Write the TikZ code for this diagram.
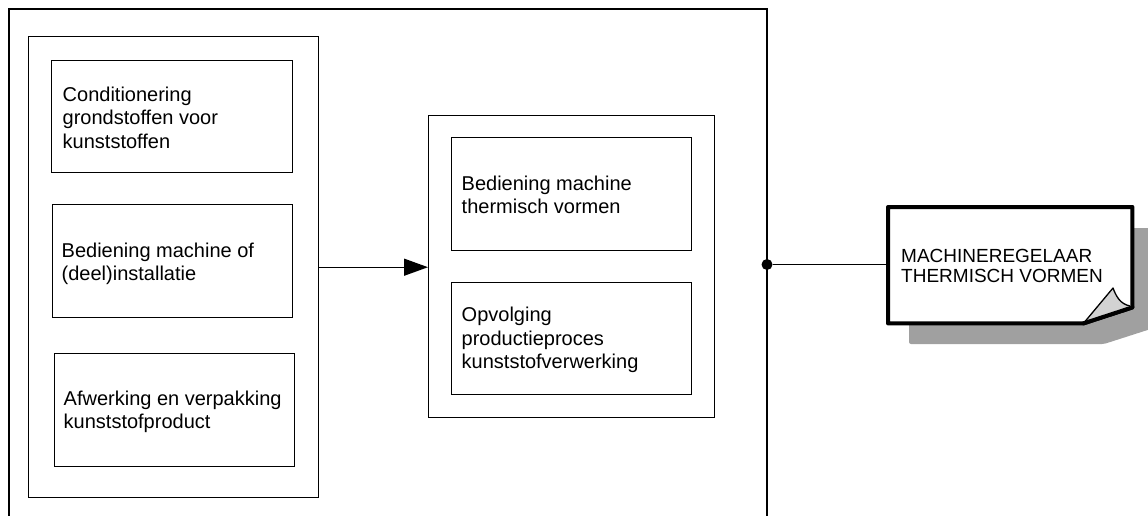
\documentclass[tikz,border=0pt]{standalone}
\usepackage{fontspec}
\setmainfont{Liberation Sans}
\usetikzlibrary{arrows.meta}
\definecolor{shadowgray}{RGB}{160,160,160}
\definecolor{foldgray}{RGB}{210,210,210}
\tikzset{
  frame/.style={draw=black, line width=1.4pt},
  box/.style={draw=black, line width=1.4pt, rectangle, inner sep=0pt, anchor=north west},
  label/.style={anchor=north west, align=left, inner sep=0pt, font=\fontsize{20}{23.5}\selectfont},
  doclabel/.style={anchor=north west, align=left, inner sep=0pt, font=\fontsize{19}{20}\selectfont},
  conn/.style={draw=black, line width=1.4pt},
}
\begin{document}
\begin{tikzpicture}[x=1pt,y=-1pt]
\useasboundingbox (0,0) rectangle (1148,515);
\begin{scope}
\clip (0,0) rectangle (1148,515);
% outer frame, open at the bottom
\coordinate (fbl) at (9,530);
\coordinate (ftl) at (9,9);
\coordinate (ftr) at (767,9);
\coordinate (fbr) at (767,530);
\draw[frame, line join=miter] (fbl) -- (ftl) -- (ftr) -- (fbr);

% left group
\node[box, minimum width=290pt, minimum height=461pt] (g1) at (28,36) {};
\node[box, minimum width=241pt, minimum height=112pt] (b1) at (51,60) {};
\node[box, minimum width=240pt, minimum height=113pt] (b2) at (52,204) {};
\node[box, minimum width=240pt, minimum height=113pt] (b3) at (54,353) {};
\node[label] (t1) at (62.5,86.4) {Conditionering\\grondstoffen voor\\kunststoffen};
\node[label] (t2) at (61.5,242.4) {Bediening machine of\\(deel)installatie};
\node[label] (t3) at (63.5,390.4) {Afwerking en verpakking\\kunststofproduct};

% middle group
\node[box, minimum width=286pt, minimum height=302pt] (g2) at (428,115) {};
\node[box, minimum width=240pt, minimum height=113pt] (m1) at (451,137) {};
\node[box, minimum width=240pt, minimum height=112pt] (m2) at (451,282) {};
\node[label] (t4) at (461.5,175.4) {Bediening machine\\thermisch vormen};
\node[label] (t5) at (461.5,307.1) {Opvolging\\productieproces\\kunststofverwerking};

% arrow between groups
\draw[conn, -{Triangle[length=24pt,width=17pt]}] (g1.east) -- (g1.east -| g2.west);

% document shape
\node[inner sep=0pt, minimum width=244pt, minimum height=116pt, anchor=north west] (doc) at (888,207) {};
\fill[shadowgray, rounded corners=2pt] (909,228) -- (1160,228) -- (1160,326) -- (1104,344) -- (909,344) -- cycle;
\draw[line width=4pt, line join=round, fill=white] (doc.north west) -- (doc.north east)
  -- ([yshift=16pt]doc.south east) -- ([xshift=-49pt]doc.south east) -- (doc.south west) -- cycle;
\coordinate (f1) at ([xshift=-49pt]doc.south east);
\coordinate (f2) at (1113,288);
\coordinate (f3) at ([yshift=16pt]doc.south east);
\fill[foldgray] (f1) -- (f2) .. controls (1116,296) and (1120,304) .. (1130,306) -- cycle;
\draw[line width=1.3pt, line join=round] (f1) -- (f2) .. controls (1116,296) and (1120,304) .. (1130,306);
\draw[line width=4pt, line cap=round] (f1) -- (f3);
\node[doclabel] (t6) at (901,249.3) {MACHINEREGELAAR\\THERMISCH VORMEN};

% junction dot and connector
\node[circle, fill=black, inner sep=0pt, minimum size=11pt] (dot) at (767,264.5) {};
\draw[conn] (dot) -- (dot -| doc.west);
\end{scope}
\end{tikzpicture}
\end{document}
